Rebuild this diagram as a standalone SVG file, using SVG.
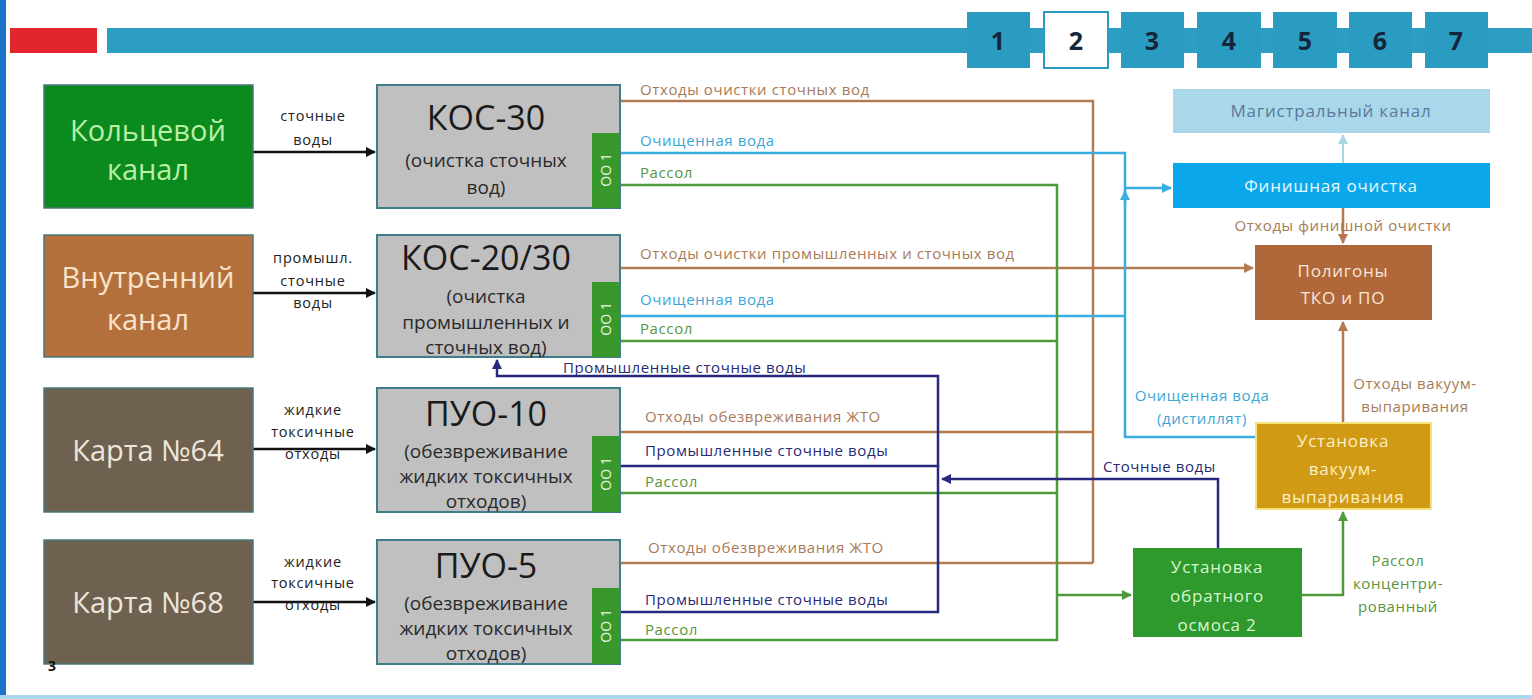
<svg xmlns="http://www.w3.org/2000/svg" width="1532" height="699" viewBox="0 0 1532 699">
<defs>
<style>
text{font-family:"Open Sans","Noto Sans","DejaVu Sans",sans-serif}
.srcbox{stroke:#4a7878;stroke-width:1.5}
.srct{font-size:29px;text-anchor:middle}
.mid{fill:#c0c0c0;stroke:#3f7d8c;stroke-width:2}
.strip{fill:#38982c}
.title{font-size:34px;fill:#1a1a1a;text-anchor:middle}
.sub{font-size:19px;fill:#2a2a2a;text-anchor:middle}
.oo{font-size:14px;fill:#e8f5e0;text-anchor:middle}
.ln{fill:none;stroke-width:2.5}
.br{stroke:#b47b52}
.bl{stroke:#38ade0}
.gr{stroke:#4e9a3c}
.nv{stroke:#28287e}
.bk{stroke:#111;stroke-width:2.5;fill:none}
.lb{font-size:15px;letter-spacing:0.6px}
.lbr{fill:#a87a58}
.lbl{fill:#3aa6d6}
.lgr{fill:#5a9440}
.lnv{fill:#2a2a72}
.alb{font-size:14.5px;letter-spacing:0.8px;fill:#222;text-anchor:middle}
.tab{fill:#2a9cc2}
.tabt{font-size:25px;font-weight:bold;fill:#16263a;text-anchor:middle}
.bt{font-size:17px;letter-spacing:0.8px;text-anchor:middle}
</style>
<marker id="ab" viewBox="0 0 10 10" refX="9" refY="5" markerWidth="4" markerHeight="4" orient="auto"><path d="M0,0L10,5L0,10z" fill="#111"/></marker>
<marker id="abr" viewBox="0 0 10 10" refX="9" refY="5" markerWidth="4" markerHeight="4" orient="auto"><path d="M0,0L10,5L0,10z" fill="#b47b52"/></marker>
<marker id="abl" viewBox="0 0 10 10" refX="9" refY="5" markerWidth="4" markerHeight="4" orient="auto"><path d="M0,0L10,5L0,10z" fill="#38ade0"/></marker>
<marker id="agr" viewBox="0 0 10 10" refX="9" refY="5" markerWidth="4" markerHeight="4" orient="auto"><path d="M0,0L10,5L0,10z" fill="#4e9a3c"/></marker>
<marker id="anv" viewBox="0 0 10 10" refX="9" refY="5" markerWidth="4" markerHeight="4" orient="auto"><path d="M0,0L10,5L0,10z" fill="#28287e"/></marker>
<marker id="alb" viewBox="0 0 10 10" refX="9" refY="5" markerWidth="5" markerHeight="5" orient="auto"><path d="M0,0L10,5L0,10z" fill="#a9d4e6"/></marker>
</defs>
<rect width="1532" height="699" fill="#fff"/>
<!-- frame -->
<rect x="0" y="0" width="6" height="699" fill="#1b74c9"/>
<rect x="0" y="695" width="1532" height="4" fill="#a9d6f0"/>
<!-- header -->
<g id="header">
<rect x="10" y="28" width="87" height="25" fill="#e1262d"/>
<rect x="107" y="28" width="1425" height="25" fill="#2d9dc1"/>
<rect class="tab" x="967" y="12" width="63" height="56"/>
<rect x="1044" y="12" width="64" height="56" fill="#fff" stroke="#2a9cc2" stroke-width="2"/>
<rect class="tab" x="1121" y="12" width="63" height="56"/>
<rect class="tab" x="1197" y="12" width="64" height="56"/>
<rect class="tab" x="1273" y="12" width="64" height="56"/>
<rect class="tab" x="1349" y="12" width="63" height="56"/>
<rect class="tab" x="1425" y="12" width="63" height="56"/>
<text class="tabt" x="998" y="50">1</text>
<text class="tabt" x="1076" y="50">2</text>
<text class="tabt" x="1152" y="50">3</text>
<text class="tabt" x="1229" y="50">4</text>
<text class="tabt" x="1305" y="50">5</text>
<text class="tabt" x="1380" y="50">6</text>
<text class="tabt" x="1456" y="50">7</text>
</g>
<!-- connectors -->
<g id="connectors">
<!-- input arrows -->
<path class="bk" d="M253,152H375" marker-end="url(#ab)"/>
<path class="bk" d="M253,293H375" marker-end="url(#ab)"/>
<path class="bk" d="M253,449H375" marker-end="url(#ab)"/>
<path class="bk" d="M253,602H375" marker-end="url(#ab)"/>
<!-- brown waste -->
<path class="ln br" d="M620,101H1093V563"/>
<path class="ln br" d="M620,268H1253" marker-end="url(#abr)"/>
<path class="ln br" d="M620,432H1093"/>
<path class="ln br" d="M620,563H1093"/>
<path class="ln br" d="M1343,208V243" marker-end="url(#abr)"/>
<path class="ln br" d="M1343,422V322" marker-end="url(#abr)"/>
<!-- blue clean water -->
<path class="ln bl" d="M620,153H1125V437H1255"/>
<path class="ln bl" d="M620,316H1125"/>
<path class="ln bl" d="M1125,188H1171" marker-end="url(#abl)"/>
<path class="ln bl" d="M1125,205V191" marker-end="url(#abl)"/>
<path fill="none" stroke="#a9d4e6" stroke-width="2" d="M1343,163V135" marker-end="url(#alb)"/>
<!-- green brine -->
<path class="ln gr" d="M620,185H1057V640H620"/>
<path class="ln gr" d="M620,341H1057"/>
<path class="ln gr" d="M620,493H1057"/>
<path class="ln gr" d="M1057,595H1131" marker-end="url(#agr)"/>
<path class="ln gr" d="M1302,595H1343V512" marker-end="url(#agr)"/>
<!-- navy industrial -->
<path class="ln nv" d="M620,466H938V376H497V360" marker-end="url(#anv)"/>
<path class="ln nv" d="M620,612H938V466"/>
<path class="ln nv" d="M1218,548V479H942" marker-end="url(#anv)"/>
<!-- labels -->
<text class="alb" x="313" y="121">сточные</text>
<text class="alb" x="313" y="145">воды</text>
<text class="alb" x="313" y="263">промышл.</text>
<text class="alb" x="313" y="286">сточные</text>
<text class="alb" x="313" y="308">воды</text>
<text class="alb" x="313" y="415">жидкие</text>
<text class="alb" x="313" y="437">токсичные</text>
<text class="alb" x="313" y="459">отходы</text>
<text class="alb" x="313" y="567">жидкие</text>
<text class="alb" x="313" y="588">токсичные</text>
<text class="alb" x="313" y="610">отходы</text>
<text class="lb lbr" x="640" y="95">Отходы очистки сточных вод</text>
<text class="lb lbl" x="640" y="146">Очищенная вода</text>
<text class="lb lgr" x="640" y="178">Рассол</text>
<text class="lb lbr" x="640" y="259">Отходы очистки промышленных и сточных вод</text>
<text class="lb lbl" x="640" y="305">Очищенная вода</text>
<text class="lb lgr" x="640" y="334">Рассол</text>
<text class="lb lnv" x="563" y="373">Промышленные сточные воды</text>
<text class="lb lbr" x="645" y="422">Отходы обезвреживания ЖТО</text>
<text class="lb lnv" x="645" y="456">Промышленные сточные воды</text>
<text class="lb lgr" x="645" y="487">Рассол</text>
<text class="lb lbr" x="648" y="553">Отходы обезвреживания ЖТО</text>
<text class="lb lnv" x="645" y="605">Промышленные сточные воды</text>
<text class="lb lgr" x="645" y="635">Рассол</text>
<text class="lb lbr" x="1343" y="231" text-anchor="middle">Отходы финишной очистки</text>
<text class="lb lbl" x="1202" y="401" text-anchor="middle">Очищенная вода</text>
<text class="lb lbl" x="1202" y="424" text-anchor="middle">(дистиллят)</text>
<text class="lb lbr" x="1415" y="389" text-anchor="middle">Отходы вакуум-</text>
<text class="lb lbr" x="1415" y="412" text-anchor="middle">выпаривания</text>
<text class="lb lnv" x="1103" y="472">Сточные воды</text>
<text class="lb lgr" x="1398" y="566" text-anchor="middle">Рассол</text>
<text class="lb lgr" x="1398" y="589" text-anchor="middle">концентри-</text>
<text class="lb lgr" x="1398" y="612" text-anchor="middle">рованный</text>
</g>
<!-- sources -->
<g id="koltsevoy">
<rect class="srcbox" x="44" y="85" width="209" height="123" fill="#0b8a1e"/>
<text class="srct" x="148" y="141" fill="#b8f0a8">Кольцевой</text>
<text class="srct" x="148" y="180" fill="#b8f0a8">канал</text>
</g>
<g id="vnutrenniy">
<rect class="srcbox" x="44" y="235" width="209" height="122" fill="#b4703c"/>
<text class="srct" x="148" y="288" fill="#f8e4cc">Внутренний</text>
<text class="srct" x="148" y="330" fill="#f8e4cc">канал</text>
</g>
<g id="karta64">
<rect class="srcbox" x="44" y="388" width="209" height="124" fill="#6e6150"/>
<text class="srct" x="148" y="461" fill="#efe6da">Карта №64</text>
</g>
<g id="karta68">
<rect class="srcbox" x="44" y="540" width="209" height="124" fill="#6e6150"/>
<text class="srct" x="148" y="613" fill="#efe6da">Карта №68</text>
</g>
<text x="48" y="671" font-size="14" font-weight="bold" fill="#111">3</text>
<!-- processing -->
<g id="kos30">
<rect class="mid" x="377" y="85" width="243" height="123"/>
<rect class="strip" x="592" y="133" width="28" height="75"/>
<text class="oo" transform="translate(611,170) rotate(-90)">ОО 1</text>
<text class="title" x="486" y="130">КОС-30</text>
<text class="sub" x="486" y="167">(очистка сточных</text>
<text class="sub" x="486" y="194">вод)</text>
</g>
<g id="kos2030">
<rect class="mid" x="377" y="235" width="243" height="122"/>
<rect class="strip" x="592" y="282" width="28" height="75"/>
<text class="oo" transform="translate(611,319) rotate(-90)">ОО 1</text>
<text class="title" x="486" y="270">КОС-20/30</text>
<text class="sub" x="486" y="303">(очистка</text>
<text class="sub" x="486" y="329">промышленных и</text>
<text class="sub" x="486" y="354">сточных вод)</text>
</g>
<g id="puo10">
<rect class="mid" x="377" y="388" width="243" height="124"/>
<rect class="strip" x="592" y="436" width="28" height="76"/>
<text class="oo" transform="translate(611,474) rotate(-90)">ОО 1</text>
<text class="title" x="486" y="426">ПУО-10</text>
<text class="sub" x="486" y="458">(обезвреживание</text>
<text class="sub" x="486" y="483">жидких токсичных</text>
<text class="sub" x="486" y="508">отходов)</text>
</g>
<g id="puo5">
<rect class="mid" x="377" y="540" width="243" height="124"/>
<rect class="strip" x="592" y="588" width="28" height="76"/>
<text class="oo" transform="translate(611,626) rotate(-90)">ОО 1</text>
<text class="title" x="486" y="578">ПУО-5</text>
<text class="sub" x="486" y="610">(обезвреживание</text>
<text class="sub" x="486" y="635">жидких токсичных</text>
<text class="sub" x="486" y="660">отходов)</text>
</g>
<!-- right side -->
<g id="magistral">
<rect x="1173" y="89" width="317" height="44" fill="#aad8ea"/>
<text class="bt" x="1331" y="117" fill="#5a7a9a">Магистральный канал</text>
</g>
<g id="finish">
<rect x="1173" y="163" width="317" height="45" fill="#0aa8ea"/>
<text class="bt" x="1331" y="192" fill="#e8f8ff">Финишная очистка</text>
</g>
<g id="poligony">
<rect x="1255" y="245" width="177" height="75" fill="#b0683a"/>
<text class="bt" x="1343" y="277" fill="#f8e6d6">Полигоны</text>
<text class="bt" x="1343" y="304" fill="#f8e6d6">ТКО и ПО</text>
</g>
<g id="vacuum">
<rect x="1256" y="423" width="175" height="86" fill="#d09a14" stroke="#f6e27a" stroke-width="2"/>
<text class="bt" x="1343" y="447" fill="#fbefc8">Установка</text>
<text class="bt" x="1343" y="475" fill="#fbefc8">вакуум-</text>
<text class="bt" x="1343" y="503" fill="#fbefc8">выпаривания</text>
</g>
<g id="osmos">
<rect x="1133" y="548" width="169" height="89" fill="#2e9a2e"/>
<text class="bt" x="1217" y="573" fill="#d8f5cc">Установка</text>
<text class="bt" x="1217" y="602" fill="#d8f5cc">обратного</text>
<text class="bt" x="1217" y="631" fill="#d8f5cc">осмоса 2</text>
</g>
</svg>
